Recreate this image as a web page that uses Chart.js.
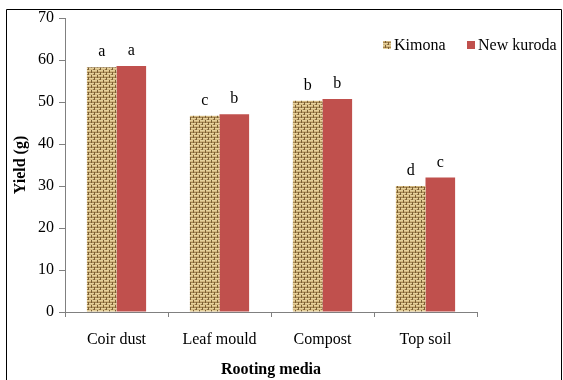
<!DOCTYPE html>
<html>
<head>
<meta charset="utf-8">
<script src="https://cdn.jsdelivr.net/npm/chart.js@4/dist/chart.umd.min.js"></script>
<style>
  html, body { margin: 0; padding: 0; background: #fff; }
  #wrap { width: 563px; height: 380px; position: relative; }
</style>
</head>
<body>
<div id="wrap"><canvas id="c" width="563" height="380"></canvas></div>
<script>
// Yield by rooting medium for two cultivars
const categories = ['Coir dust', 'Leaf mould', 'Compost', 'Top soil'];
const kimona = [58.3, 46.7, 50.3, 30.0];
const newKuroda = [58.6, 47.1, 50.7, 32.0];
const kimonaLetters = ['a', 'c', 'b', 'd'];
const newKurodaLetters = ['a', 'b', 'b', 'c'];
const yTicks = [0, 10, 20, 30, 40, 50, 60, 70];

const SERIF = '"Liberation Serif", "DejaVu Serif", serif';

// Woven burlap-like fill for the Kimona bars
function burlapPattern() {
  const p = document.createElement('canvas');
  p.width = 6; p.height = 5;
  const g = p.getContext('2d');
  g.fillStyle = '#d2b77f';
  g.fillRect(0, 0, 6, 5);
  g.fillStyle = '#e6d19c';
  g.fillRect(0, 0, 6, 1);
  g.fillRect(0, 3, 6, 1);
  g.fillStyle = '#a98a56';
  g.fillRect(0, 2, 6, 1);
  g.fillStyle = '#7a5e32';
  g.fillRect(1, 0, 1, 3);
  g.fillRect(4, 2, 1, 3);
  g.fillStyle = '#967645';
  g.fillRect(3, 4, 1, 1);
  return g.createPattern(p, 'repeat');
}

const ctx = document.getElementById('c').getContext('2d');
const kimonaFill = burlapPattern();

// Letters above each bar, the frame round the figure, and the legend
const decorations = {
  id: 'decorations',
  afterDatasetsDraw(chart) {
    const c = chart.ctx;
    const letterSets = [kimonaLetters, newKurodaLetters];
    c.save();
    c.fillStyle = '#000';
    c.font = '16px ' + SERIF;
    c.textAlign = 'center';
    c.textBaseline = 'middle';
    letterSets.forEach((letters, di) => {
      chart.getDatasetMeta(di).data.forEach((bar, i) => {
        c.fillText(letters[i], bar.x, bar.y - 15);
      });
    });
    c.restore();
  },
  afterDraw(chart) {
    const c = chart.ctx;
    c.save();
    // frame
    c.strokeStyle = '#000';
    c.lineWidth = 1;
    c.beginPath();
    c.moveTo(6.5, 380);
    c.lineTo(6.5, 9.5);
    c.lineTo(561.5, 9.5);
    c.lineTo(561.5, 380);
    c.stroke();
    // legend
    const items = [
      { label: chart.data.datasets[0].label, fill: kimonaFill, x: 383 },
      { label: chart.data.datasets[1].label, fill: '#c0504d', x: 467 }
    ];
    c.font = '16px ' + SERIF;
    c.textBaseline = 'middle';
    c.textAlign = 'left';
    items.forEach(it => {
      c.fillStyle = it.fill;
      c.fillRect(it.x, 41, 8, 8);
      c.fillStyle = '#000';
      c.fillText(it.label, it.x + 11, 45.5);
    });
    c.restore();
  }
};

new Chart(ctx, {
  type: 'bar',
  data: {
    labels: categories,
    datasets: [
      { label: 'Kimona', data: kimona, backgroundColor: kimonaFill, borderWidth: 0 },
      { label: 'New kuroda', data: newKuroda, backgroundColor: '#c0504d', borderWidth: 0 }
    ]
  },
  options: {
    responsive: false,
    animation: false,
    devicePixelRatio: 1,
    layout: { padding: { left: 0, top: 18, right: 86, bottom: 0 } },
    datasets: { bar: { categoryPercentage: 0.575, barPercentage: 1.0 } },
    plugins: {
      legend: { display: false },
      tooltip: { enabled: false }
    },
    scales: {
      x: {
        afterFit(scale) { scale.height = 68; },
        grid: {
          display: true, drawOnChartArea: false, drawTicks: true,
          tickLength: 5, offset: true, color: '#808080', lineWidth: 1
        },
        border: { display: true, color: '#808080', width: 1 },
        ticks: { color: '#000', font: { family: SERIF, size: 16 }, padding: 13, maxRotation: 0 },
        title: {
          display: true, text: 'Rooting media', color: '#000',
          font: { family: SERIF, size: 16, weight: 'bold' },
          padding: { top: 0, bottom: 1 }
        }
      },
      y: {
        min: 0, max: 70,
        afterFit(scale) { scale.width = 65; },
        afterBuildTicks(scale) { scale.ticks = yTicks.map(v => ({ value: v })); },
        grid: {
          display: true, drawOnChartArea: false, drawTicks: true,
          tickLength: 6, color: '#808080', lineWidth: 1
        },
        border: { display: true, color: '#808080', width: 1 },
        ticks: { color: '#000', font: { family: SERIF, size: 16 }, padding: 5 },
        title: {
          display: true, text: 'Yield (g)', color: '#000',
          font: { family: SERIF, size: 16, weight: 'bold' },
          padding: { top: 11, bottom: 0 }
        }
      }
    }
  },
  plugins: [decorations]
});
</script>
</body>
</html>
